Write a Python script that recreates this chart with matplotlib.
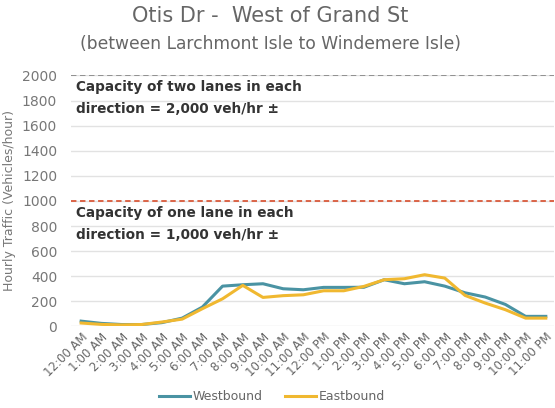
import matplotlib.pyplot as plt

hours = ["12:00 AM", "1:00 AM", "2:00 AM", "3:00 AM", "4:00 AM", "5:00 AM",
         "6:00 AM", "7:00 AM", "8:00 AM", "9:00 AM", "10:00 AM", "11:00 AM",
         "12:00 PM", "1:00 PM", "2:00 PM", "3:00 PM", "4:00 PM", "5:00 PM",
         "6:00 PM", "7:00 PM", "8:00 PM", "9:00 PM", "10:00 PM", "11:00 PM"]
westbound = [42, 24, 15, 15, 30, 66, 154, 321, 332, 340, 300, 292,
             311, 311, 312, 372, 340, 356, 321, 268, 234, 175, 80, 80]
eastbound = [27, 16, 12, 15, 35, 58, 141, 220, 327, 231, 245, 252,
             284, 284, 319, 372, 380, 412, 385, 247, 186, 133, 66, 66]
cap_two = 2000
cap_one = 1000

fig = plt.figure(figsize=(5.55, 4.08), dpi=100)
ax = fig.add_axes([0.128, 0.2, 0.87, 0.615])

x = range(len(hours))
ax.plot(x, westbound, color="#4a93a3", lw=2.2, label="Westbound")
ax.plot(x, eastbound, color="#f0b830", lw=2.2, label="Eastbound")

ax.axhline(cap_two, color="#8a8a8a", ls=(0, (3, 2)), lw=1.3)
ax.axhline(cap_one, color="#d9593a", ls=(0, (3, 2)), lw=1.3)

ax.text(-0.25, 1820, "Capacity of two lanes in each\ndirection = 2,000 veh/hr \u00b1",
        fontsize=9.8, fontweight="bold", color="#333333", va="center", linespacing=1.7)
ax.text(-0.25, 815, "Capacity of one lane in each\ndirection = 1,000 veh/hr \u00b1",
        fontsize=9.8, fontweight="bold", color="#333333", va="center", linespacing=1.7)

ax.set_ylim(0, 2000)
ax.set_xlim(-0.5, len(hours) - 0.6)
ax.set_yticks(range(0, 2001, 200))
ax.set_xticks(list(x))
ax.set_xticklabels(hours, rotation=45, ha="right", rotation_mode="anchor", fontsize=8.5, color="#666666")
ax.tick_params(axis="y", labelsize=10, colors="#777777", length=0, pad=10)
ax.tick_params(axis="x", length=0, pad=3)
ax.grid(axis="y", color="#e2e2e2", lw=1)
ax.set_axisbelow(True)
for s in ax.spines.values():
    s.set_visible(False)
ax.set_ylabel("Hourly Traffic (Vehicles/hour)", fontsize=9, color="#777777", labelpad=4)

fig.text(0.487, 0.96, "Otis Dr -  West of Grand St", ha="center", va="center",
         fontsize=15, color="#666666")
fig.text(0.487, 0.892, "(between Larchmont Isle to Windemere Isle)", ha="center", va="center",
         fontsize=12.3, color="#666666")

fig.legend(loc="center", bbox_to_anchor=(0.49, 0.028), ncol=2, frameon=False,
           fontsize=9, labelcolor="#666666", handlelength=2.5, handletextpad=0.2,
           columnspacing=1.8)

fig.savefig("out.png", dpi=100)
